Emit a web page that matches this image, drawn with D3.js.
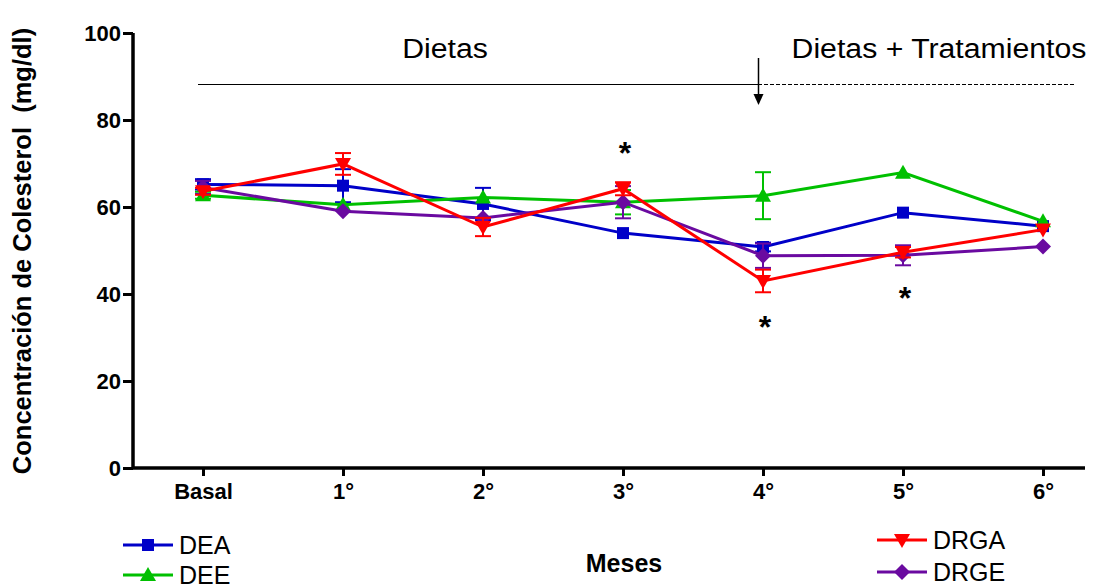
<!DOCTYPE html>
<html>
<head>
<meta charset="utf-8">
<script src="https://cdn.jsdelivr.net/npm/d3@7"></script>
<style>
  body { margin: 0; background: #fff; }
  text { font-family: Arial, "Liberation Sans", sans-serif; }
</style>
</head>
<body>
<div id="chart"></div>
<script>
// data
var meses = ["Basal", "1°", "2°", "3°", "4°", "5°", "6°"];
var yTicks = [0, 20, 40, 60, 80, 100];

var dea     = [65.2, 64.9, 60.7, 54.0, 50.8, 58.7, 55.6];
var deaErr  = [1.2, 3.8, 3.7, 0, 1.0, 0, 0];
var dee     = [62.7, 60.5, 62.2, 61.1, 62.6, 67.9, 56.7];
var deeErr  = [0.8, 0, 0, 2.8, 5.4, 0, 0];
var drga    = [63.6, 69.9, 55.4, 64.2, 43.0, 49.6, 54.8];
var drgaErr = [0.8, 2.5, 2.1, 1.5, 2.6, 1.2, 0];
var drge    = [64.5, 59.0, 57.5, 61.1, 48.8, 48.9, 50.9];
var drgeErr = [1.5, 0, 0, 3.7, 2.8, 2.3, 0];

// asterisks: [index, value position]
var stars = [[3, 73.5], [4, 33.5], [5, 40.3]];

var W = 1103, H = 585;
var svg = d3.select("#chart").append("svg")
    .attr("width", W).attr("height", H);

var x = d3.scaleLinear().domain([-0.5, 6.3]).range([133, 1085]);
var y = d3.scaleLinear().domain([0, 100]).range([468, 33]);

var series = [
  {name: "DEA",  vals: dea,  err: deaErr,  color: "#0000c8", shape: "square"},
  {name: "DEE",  vals: dee,  err: deeErr,  color: "#00c000", shape: "up"},
  {name: "DRGE", vals: drge, err: drgeErr, color: "#6a0aa0", shape: "diamond"},
  {name: "DRGA", vals: drga, err: drgaErr, color: "#ff0000", shape: "down"}
];

function markerPath(shape) {
  if (shape == "square") return "M-6,-6H6V6H-6Z";
  if (shape == "up") return "M0,-8L8,6H-8Z";
  if (shape == "down") return "M0,8L8,-6H-8Z";
  return "M0,-8L8,0L0,8L-8,0Z";
}

// axes
var yAxis = svg.append("g")
    .attr("transform", "translate(133,0)")
    .call(d3.axisLeft(y).tickValues(yTicks).tickSize(10).tickPadding(2));
var xAxis = svg.append("g")
    .attr("transform", "translate(0,468)")
    .call(d3.axisBottom(x).tickValues(d3.range(7)).tickSize(8).tickPadding(7)
      .tickFormat(function(d) { return meses[d]; }));
[yAxis, xAxis].forEach(function(a) {
  a.select(".domain").attr("stroke-width", 3.5).attr("stroke", "#000");
  a.selectAll(".tick line").attr("stroke-width", 3).attr("stroke", "#000");
  a.selectAll("text").style("font-family", "Arial, 'Liberation Sans', sans-serif")
    .style("font-size", "22px").style("font-weight", "bold").attr("fill", "#000");
});
yAxis.select(".domain").attr("d", "M0,468V33");
xAxis.select(".domain").attr("d", "M133,0H1085");

// axis titles
svg.append("text")
    .attr("transform", "translate(31,251) rotate(-90)")
    .attr("text-anchor", "middle")
    .style("font-size", "25.5px").style("font-weight", "bold")
    .text("Concentración de Colesterol \u00a0(mg/dl)");
svg.append("text")
    .attr("x", 624).attr("y", 572)
    .attr("text-anchor", "middle")
    .style("font-size", "25px").style("font-weight", "bold")
    .text("Meses");

// period annotation
svg.append("line").attr("x1", 198).attr("x2", 758).attr("y1", 84.5).attr("y2", 84.5)
    .attr("stroke", "#000").attr("stroke-width", 1);
svg.append("line").attr("x1", 758).attr("x2", 1076).attr("y1", 84.5).attr("y2", 84.5)
    .attr("stroke", "#000").attr("stroke-width", 1).attr("stroke-dasharray", "4,2");
svg.append("line").attr("x1", 758.5).attr("x2", 758.5).attr("y1", 58).attr("y2", 96)
    .attr("stroke", "#000").attr("stroke-width", 1.5);
svg.append("path").attr("d", "M753.5,94L763.5,94L758.5,105Z").attr("fill", "#000");
svg.append("text").attr("transform", "translate(445,58) scale(1.12,1)")
    .attr("text-anchor", "middle")
    .style("font-size", "27px").text("Dietas");
svg.append("text").attr("transform", "translate(939,58) scale(1.12,1)")
    .attr("text-anchor", "middle")
    .style("font-size", "27px").text("Dietas + Tratamientos");

// series
var line = d3.line().x(function(d, i) { return x(i); }).y(function(d) { return y(d); });

series.forEach(function(s) {
  var g = svg.append("g");
  // error bars
  s.vals.forEach(function(v, i) {
    if (!s.err[i]) return;
    var cx = x(i), t = y(v + s.err[i]), b = y(v - s.err[i]);
    g.append("line").attr("x1", cx).attr("x2", cx).attr("y1", t).attr("y2", b)
      .attr("stroke", s.color).attr("stroke-width", 2);
    [t, b].forEach(function(yy) {
      g.append("line").attr("x1", cx - 8).attr("x2", cx + 8).attr("y1", yy).attr("y2", yy)
        .attr("stroke", s.color).attr("stroke-width", 2);
    });
  });
  g.append("path").datum(s.vals)
    .attr("fill", "none").attr("stroke", s.color).attr("stroke-width", 3)
    .attr("d", line);
  g.selectAll(".m").data(s.vals).enter().append("path")
    .attr("transform", function(d, i) { return "translate(" + x(i) + "," + y(d) + ")"; })
    .attr("d", markerPath(s.shape))
    .attr("fill", s.color);
});

// asterisks
stars.forEach(function(st) {
  svg.append("text").attr("x", x(st[0]) + 2).attr("y", y(st[1]) + 16)
    .attr("text-anchor", "middle")
    .style("font-size", "32px").style("font-weight", "bold")
    .text("*");
});

// legend
var legend = [
  {s: series[0], lx: 123, ly: 545},
  {s: series[1], lx: 123, ly: 575},
  {s: series[3], lx: 877, ly: 540},
  {s: series[2], lx: 877, ly: 572}
];
legend.forEach(function(l) {
  var g = svg.append("g");
  g.append("line").attr("x1", l.lx).attr("x2", l.lx + 50).attr("y1", l.ly).attr("y2", l.ly)
    .attr("stroke", l.s.color).attr("stroke-width", 3);
  g.append("path").attr("transform", "translate(" + (l.lx + 25) + "," + l.ly + ")")
    .attr("d", markerPath(l.s.shape)).attr("fill", l.s.color);
  g.append("text").attr("x", l.lx + 56).attr("y", l.ly + 9)
    .style("font-size", "25px").text(l.s.name);
});
</script>
</body>
</html>
